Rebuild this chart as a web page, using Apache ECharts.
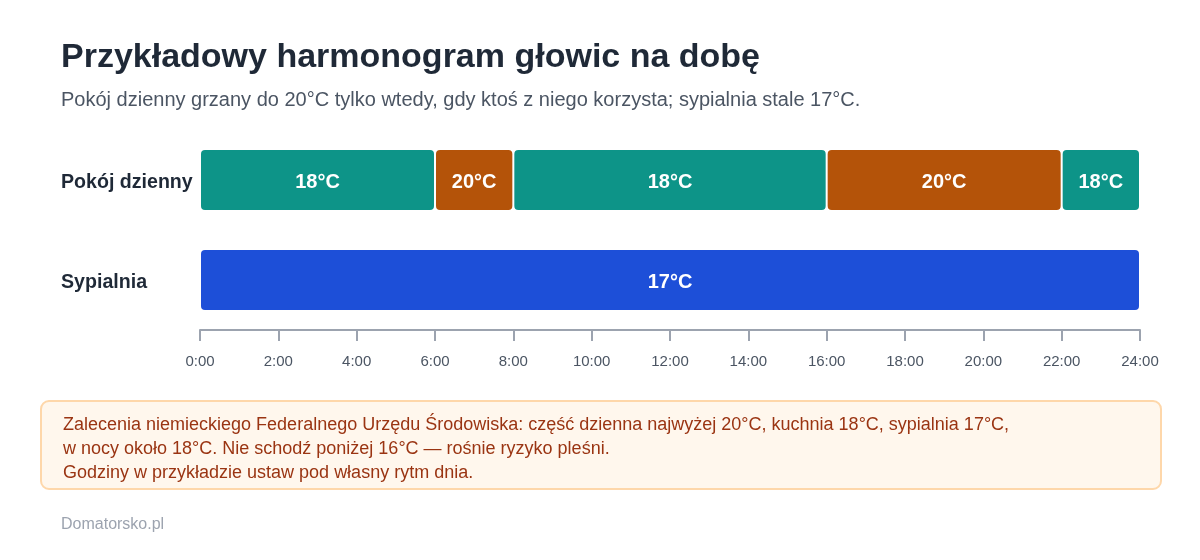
<!DOCTYPE html>
<html lang="pl">
<head>
	<meta charset="UTF-8">
	<title>Harmonogram głowic</title>
	<script src="https://cdn.jsdelivr.net/npm/echarts@6/dist/echarts.min.js"></script>
	<style>
		html, body { margin: 0; padding: 0; background: #fff; }
		#chart { width: 1200px; height: 560px; }
	</style>
</head>
<body>
<div id="chart"></div>
<script>
	// dane
	var rooms = ['Pokój dzienny', 'Sypialnia'];
	var livingStart = [0, 6, 8, 16, 22];
	var livingEnd = [6, 8, 16, 22, 24];
	var livingTemp = [18, 20, 18, 20, 18];
	var bedroomStart = [0];
	var bedroomEnd = [24];
	var bedroomTemp = [17];
	var hourTicks = [0, 2, 4, 6, 8, 10, 12, 14, 16, 18, 20, 22, 24];
	var noteLines = [
		'Zalecenia niemieckiego Federalnego Urzędu Środowiska: część dzienna najwyżej 20°C, kuchnia 18°C, sypialnia 17°C,',
		'w nocy około 18°C. Nie schodź poniżej 16°C — rośnie ryzyko pleśni.',
		'Godziny w przykładzie ustaw pod własny rytm dnia.'
	];

	var FONT = '"Liberation Sans", Arial, Helvetica, sans-serif';
	var tempColors = { 17: '#1d4fd8', 18: '#0d9488', 20: '#b45309' };

	// budowa danych dla serii custom: [wiersz, start, koniec, temp]
	var segs = [];
	for (var i = 0; i < livingStart.length; i++) {
		segs.push([0, livingStart[i], livingEnd[i], livingTemp[i]]);
	}
	for (var j = 0; j < bedroomStart.length; j++) {
		segs.push([1, bedroomStart[j], bedroomEnd[j], bedroomTemp[j]]);
	}

	function renderItem(params, api) {
		var row = api.value(0);
		var p0 = api.coord([api.value(1), row]);
		var p1 = api.coord([api.value(2), row]);
		var h = api.size([0, 1])[1] * 0.6;
		var temp = api.value(3);
		return {
			type: 'rect',
			shape: { x: p0[0] + 1, y: p0[1] - h / 2, width: p1[0] - p0[0] - 2, height: h, r: 4 },
			style: { fill: tempColors[temp] },
			textContent: {
				style: { text: temp + '°C', fill: '#fff', font: 'bold 20px ' + FONT }
			},
			textConfig: { position: 'inside', offset: [0, 2] }
		};
	}

	var chart = echarts.init(document.getElementById('chart'));
	var option = {
		animation: false,
		textStyle: { fontFamily: FONT },
		title: {
			text: 'Przykładowy harmonogram głowic na dobę',
			subtext: 'Pokój dzienny grzany do 20°C tylko wtedy, gdy ktoś z niego korzysta; sypialnia stale 17°C.',
			left: 61,
			top: 41,
			itemGap: 15,
			padding: 0,
			textStyle: { fontSize: 34, fontWeight: 'bold', color: '#1f2937', fontFamily: FONT },
			subtextStyle: { fontSize: 20, color: '#4b5563', fontFamily: FONT }
		},
		grid: { left: 200, right: 60, top: 130, bottom: 230 },
		xAxis: {
			type: 'value',
			min: 0,
			max: 24,
			interval: 2,
			axisLine: { show: true, lineStyle: { color: '#9ca3af', width: 2 } },
			axisTick: { show: true, length: 11, lineStyle: { color: '#9ca3af', width: 2 } },
			splitLine: { show: false },
			axisLabel: {
				margin: 24,
				fontSize: 15,
				fontFamily: FONT,
				color: '#4b5563',
				formatter: function (v) { return hourTicks.indexOf(v) >= 0 ? v + ':00' : ''; }
			}
		},
		yAxis: {
			type: 'category',
			inverse: true,
			data: rooms,
			axisLine: { show: false },
			axisTick: { show: false },
			axisLabel: {
				align: 'left',
				margin: 139,
				formatter: function (v) { return '{r|' + v + '}'; },
				rich: {
					r: {
						fontSize: 19.6,
						fontWeight: 'bold',
						fontFamily: FONT,
						color: '#1f2937',
						padding: [6, 0, 0, 0]
					}
				}
			}
		},
		series: [{
			type: 'custom',
			renderItem: renderItem,
			encode: { x: [1, 2], y: 0 },
			data: segs
		}],
		graphic: [
			{
				type: 'rect',
				left: 40,
				top: 400,
				shape: { width: 1120, height: 88, r: 8 },
				style: { fill: '#fff7ed', stroke: '#fed7aa', lineWidth: 2 }
			},
			{
				type: 'text',
				left: 63,
				top: 413,
				style: {
					text: noteLines.join('\n'),
					font: '18px ' + FONT,
					lineHeight: 24,
					fill: '#9a3412'
				}
			},
			{
				type: 'text',
				left: 61,
				top: 517,
				style: { text: 'Domatorsko.pl', font: '16px ' + FONT, fill: '#9ca3af' }
			}
		]
	};
	chart.setOption(option);
</script>
</body>
</html>
